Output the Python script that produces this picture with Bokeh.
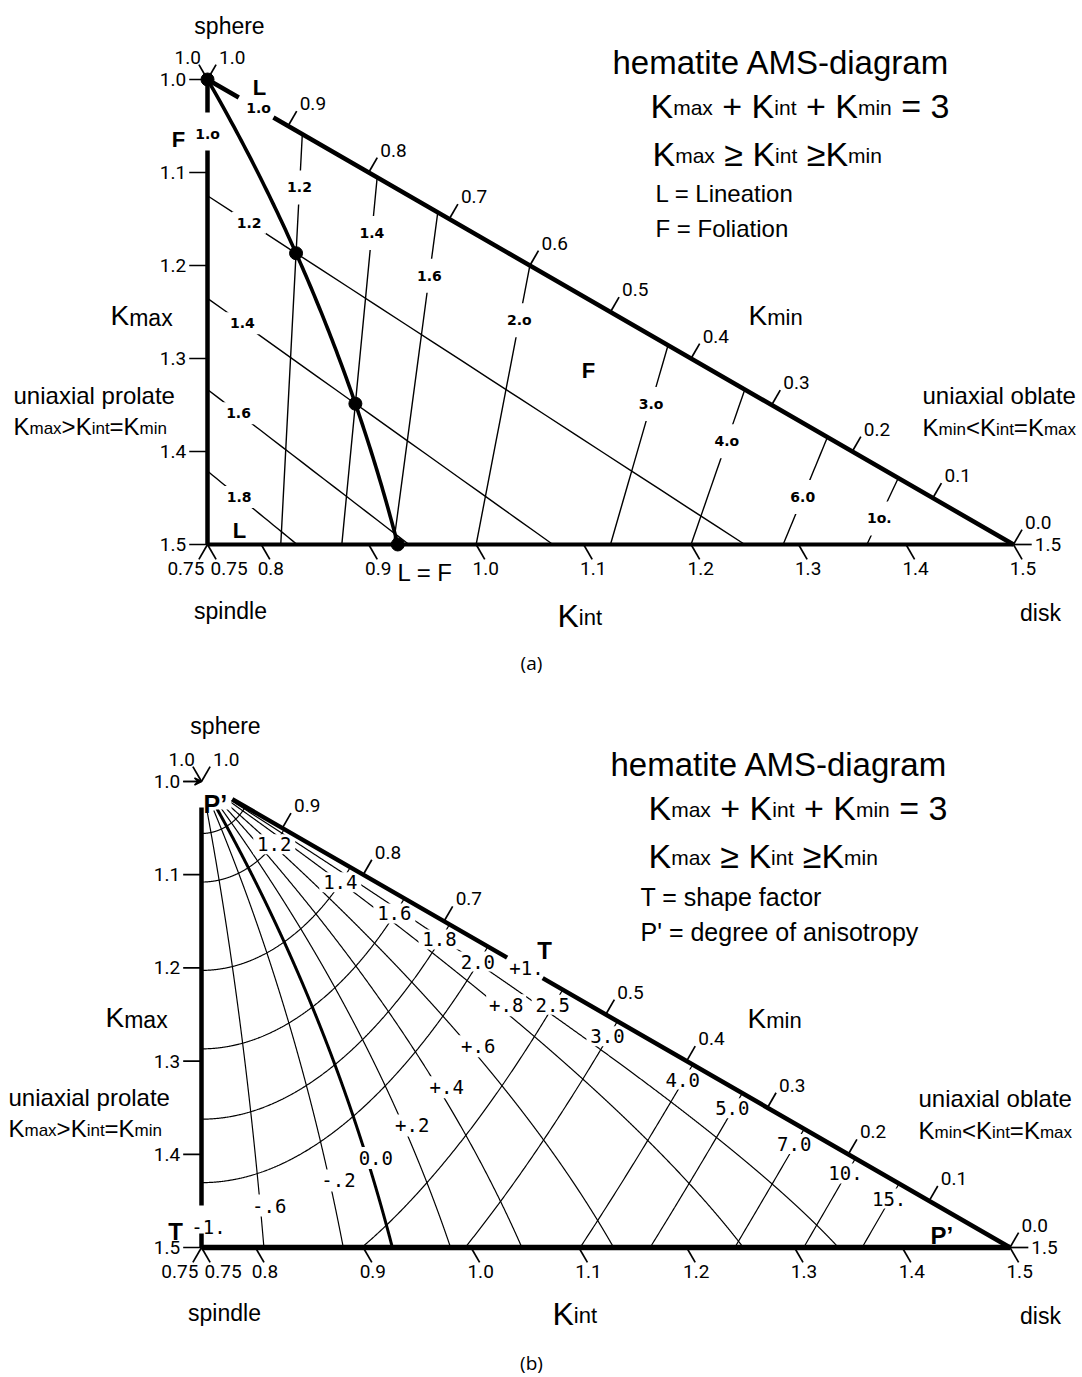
import numpy as np
from bokeh.plotting import figure
from bokeh.models import Range1d, Arrow, VeeHead
from bokeh.layouts import column
from bokeh.embed import file_html
from bokeh.resources import INLINE
from bokeh.core.properties import value

# ------------------------------------------------------------------ data
kmax_ticks = [1.0, 1.1, 1.2, 1.3, 1.4, 1.5]
kmax_labels = ["1.0", "1.1", "1.2", "1.3", "1.4", "1.5"]
kint_ticks = [0.75, 0.8, 0.9, 1.0, 1.1, 1.2, 1.3, 1.4, 1.5]
kint_labels = ["0.75", "0.8", "0.9", "1.0", "1.1", "1.2", "1.3", "1.4", "1.5"]
kmin_ticks = [1.0, 0.9, 0.8, 0.7, 0.6, 0.5, 0.4, 0.3, 0.2, 0.1, 0.0]
kmin_labels = ["1.0", "0.9", "0.8", "0.7", "0.6", "0.5", "0.4", "0.3", "0.2", "0.1", "0.0"]

# panel (a): lineation L = Kmax/Kint, foliation F = Kint/Kmin
L_values = [1.2, 1.4, 1.6, 1.8]
L_texts = ["1.2", "1.4", "1.6", "1.8"]
L_text_kmax = [1.154, 1.262, 1.359, 1.449]
F_values = [1.2, 1.4, 1.6, 2.0, 3.0, 4.0, 6.0, 10.0]
F_texts = ["1.2", "1.4", "1.6", "2.o", "3.o", "4.o", "6.0", "1o."]
F_text_kmax = [1.116, 1.165, 1.211, 1.259, 1.349, 1.389, 1.449, 1.472]
LF_dots = [1.0, 1.2, 1.4, 1.618]

# panel (b): shape factor T and degree of anisotropy P'
T_values = [-0.6, -0.2, 0.0, 0.2, 0.4, 0.6, 0.8, 0.9]
T_texts = ["-.6", "-.2", "0.0", "+.2", "+.4", "+.6", "+.8", ""]
T_text_kmax = [1.455, 1.428, 1.404, 1.369, 1.328, 1.284, 1.240, 0.0]
P_values = [1.1, 1.2, 1.4, 1.6, 1.8, 2.0, 2.5, 3.0, 4.0, 5.0, 7.0, 10.0, 15.0]
P_texts = ["", "1.2", "1.4", "1.6", "1.8", "2.0", "2.5", "3.0", "4.0", "5.0", "7.0", "10.", "15."]

# ------------------------------------------------------------------ helpers
W = 1082
SANS = "Liberation Sans"
NARROW = "Roboto"
MONO = "DejaVu Sans Mono"
STEN = "DejaVu Sans"
TFS = 19  # tick label font size

AW = {' ': 278, "'": 191, '(': 333, ')': 333, '+': 584, '-': 333, '.': 278, '<': 584, '=': 584,
      '>': 584, '\u2265': 549, 'A': 667, 'F': 611, 'K': 667, 'L': 556, 'M': 833, 'P': 667,
      'S': 667, 'T': 611, 'c': 500, 'f': 278, 'i': 222, 'j': 222, 'k': 500, 'l': 222, 'm': 833,
      'r': 333, 's': 500, 't': 278, 'v': 500, 'w': 722, 'x': 500, 'y': 500, 'z': 500}


def tw(s, size):
    return sum(AW.get(ch, 556) for ch in s) * size / 1000.0


class Panel:
    def __init__(self, X0, SX, Y0, SY, top, H):
        self.X0, self.SX, self.Y0, self.SY = X0, SX, Y0, SY
        x0 = -X0 / SX
        x1 = (W - X0) / SX
        ytop = 1 + (top - Y0) / SY
        ybot = 1 + (top + H - Y0) / SY
        p = figure(width=W, height=H, x_range=Range1d(x0, x1), y_range=Range1d(ybot, ytop),
                   output_backend="svg", toolbar_location=None, min_border=0,
                   x_axis_location=None, y_axis_location=None)
        p.grid.visible = False
        p.outline_line_color = None
        p.background_fill_color = "white"
        p.border_fill_color = "white"
        self.p = p

    def dx(self, px):
        return (px - self.X0) / self.SX

    def dy(self, py):
        return 1 + (py - self.Y0) / self.SY

    def td(self, x, y, s, size, font=SANS, style="normal", align="left", baseline="alphabetic",
           xo=0, yo=0):
        self.p.text(x=[x], y=[y], text=[s], text_font=value(font),
                    text_font_size=value("%dpx" % size), text_font_style=value(style),
                    text_align=align, text_baseline=baseline, x_offset=xo, y_offset=yo,
                    text_color="black")

    def t(self, px, py, s, size, **kw):
        self.td(self.dx(px), self.dy(py), s, size, **kw)

    def rich(self, px, py, parts):
        x = px
        for s, size, d in parts:
            lead = len(s) - len(s.lstrip(' '))
            self.t(x + tw(' ' * lead, size), py + d, s.strip(' '), size)
            x += tw(s, size)

    def box(self, x, y, w, h):
        self.p.rect(x=[x], y=[y], width=w, height=h, width_units="screen", height_units="screen",
                    fill_color="white", line_color=None)


def xy(kmax, kint, kmin):
    return np.asarray(kint) - np.asarray(kmin), np.asarray(kmax)


def K_TP(T, P):
    D = np.log(P) / np.sqrt(1.0 + T * T / 3.0)
    b = T * D / 3.0
    a = (D - b) / 2.0
    c = (-D - b) / 2.0
    e = np.exp(np.array([a, b, c]))
    return 3.0 * e / e.sum(axis=0)


def clip_bottom(x, y, ymax=1.5):
    ox, oy = [], []
    for i in range(len(x)):
        inside = y[i] <= ymax
        if i > 0:
            prev_in = y[i - 1] <= ymax
            if inside != prev_in:
                f = (ymax - y[i - 1]) / (y[i] - y[i - 1])
                ox.append(x[i - 1] + f * (x[i] - x[i - 1]))
                oy.append(ymax)
                if not inside:
                    ox.append(np.nan)
                    oy.append(np.nan)
        if inside:
            ox.append(x[i])
            oy.append(y[i])
    return ox, oy


TK = 0.016   # tick length (Kmax units) for Kint/Kmin ticks
TM = 0.034   # tick length (x units) for Kmax ticks


def frame_ticks(P, skip_kmin=(), tick_w=1.7):
    p = P.p
    x0s, y0s, x1s, y1s = [], [], [], []
    for v, lab in zip(kmax_ticks, kmax_labels):
        x0s += [0.0]; y0s += [v]; x1s += [-TM]; y1s += [v]
        P.td(-TM, v, lab, TFS, font=NARROW, align="right", baseline="middle", xo=-3)
    x0s += [1.5]; y0s += [1.5]; x1s += [1.5 + TM]; y1s += [1.5]
    P.td(1.5 + TM, 1.5, "1.5", TFS, font=NARROW, align="left", baseline="middle", xo=3)
    for k, lab in zip(kint_ticks, kint_labels):
        xb = 2 * k - 1.5
        x0s += [xb]; y0s += [1.5]; x1s += [xb + TK]; y1s += [1.5 + TK]
        xo = 13 if k == 0.75 else 1
        P.td(xb + TK, 1.5 + TK, lab, TFS, font=NARROW, align="center", baseline="top", xo=xo, yo=3)
    x0s += [0.0]; y0s += [1.0]; x1s += [-TK]; y1s += [1.0 - TK]
    P.td(-TK, 1.0 - TK, "1.0", TFS, font=NARROW, align="right", baseline="bottom", xo=2, yo=-1)
    for m, lab in zip(kmin_ticks, kmin_labels):
        if m in skip_kmin:
            continue
        kh = (3 - m) / 2.0
        xh = (3 - 3 * m) / 2.0
        x0s += [xh]; y0s += [kh]; x1s += [xh + TK]; y1s += [kh - TK]
        P.td(xh + TK, kh - TK, lab, TFS, font=NARROW, align="left", baseline="bottom", xo=3, yo=-1)
    x0s += [0.0]; y0s += [1.5]; x1s += [-TK]; y1s += [1.5 + TK]
    P.td(-TK, 1.5 + TK, "0.75", TFS, font=NARROW, align="center", baseline="top", xo=-13, yo=3)
    p.segment(x0=x0s, y0=y0s, x1=x1s, y1=y1s, line_width=tick_w, line_color="black")


def edges(P, left_from, left_gap, hyp_from, hyp_gap, w_side, w_bottom):
    p = P.p
    lx = [0, 0, np.nan, 0, 0]
    ly = [left_from, left_gap[0], np.nan, left_gap[1], 1.5]
    p.line(lx, ly, line_width=w_side, line_color="black", line_cap="butt")
    hk = [hyp_from, hyp_gap[0], np.nan, hyp_gap[1], 1.5]
    hx = [3 * (k - 1) if k == k else np.nan for k in hk]
    p.line(hx, hk, line_width=w_side, line_color="black", line_cap="butt")
    p.line([0, 1.5], [1.5, 1.5], line_width=w_bottom, line_color="black", line_cap="butt")


# ================================================================== panel (a)
A = Panel(207, 537.3, 79, 930, 0, 688)
pa = A.p

for L in L_values:
    kint = np.linspace(3 / (L + 2), 1.5 / L, 20)
    kmax = L * kint
    x, y = xy(kmax, kint, 3 - kmax - kint)
    pa.line(x, y, line_width=1.4, line_color="black")
for F in F_values:
    kint = np.linspace(3 * F / (2 * F + 1), 1.5 * F / (F + 1), 20)
    kmin = kint / F
    x, y = xy(3 - kint - kmin, kint, kmin)
    pa.line(x, y, line_width=1.4, line_color="black")

# L = F curve
Ls = np.linspace(1.0, LF_dots[-1], 120)
ki = 3 / (Ls + 1 + 1 / Ls)
x, y = xy(Ls * ki, ki, ki / Ls)
pa.line(x, y, line_width=3.6, line_color="black", line_join="round")
Ld = np.array(LF_dots)
kd = 3 / (Ld + 1 + 1 / Ld)
xd, yd = xy(Ld * kd, kd, kd / Ld)
pa.scatter(xd, yd, size=13, color="black")

for L, lab, km in zip(L_values, L_texts, L_text_kmax):
    kint = km / L
    xl = kint - (3 - km - kint)
    A.box(xl, km, 34, 22)
    A.td(xl, km, lab, 14, font=STEN, style="bold", align="center", baseline="middle")
for F, lab, km in zip(F_values, F_texts, F_text_kmax):
    kint = (3 - km) / (1 + 1 / F)
    xl = kint * (1 - 1 / F)
    A.box(xl, km, 34, 34)
    A.td(xl, km, lab, 14, font=STEN, style="bold", align="center", baseline="middle")

edges(A, 1.0, (1.0355, 1.0763), 1.0, (1.0194, 1.0409), 4.5, 4.0)
frame_ticks(A)

A.t(229, 25, "sphere", 23, align="center")
A.t(230, 610, "spindle", 23, align="center")
A.t(1040, 612, "disk", 23, align="center")
A.rich(612, 62, [("hematite AMS-diagram", 33, 0)])
A.rich(650, 105, [("K", 34, 0), ("max", 21, 2), (" + K", 34, 0), ("int", 21, 2), (" + K", 34, 0),
                  ("min", 21, 2), (" = 3", 34, 0)])
A.rich(652, 153, [("K", 34, 0), ("max", 21, 2), (" \u2265 K", 34, 0), ("int", 21, 2),
                  (" \u2265K", 34, 0), ("min", 21, 2)])
A.t(655, 193, "L = Lineation", 24)
A.t(655, 228, "F = Foliation", 24)
A.rich(110, 315, [("K", 28, 0), ("max", 23, 2)])
A.rich(557, 615, [("K", 32, 0), ("int", 22, 2)])
A.rich(748, 315, [("K", 28, 0), ("min", 22, 2)])
A.t(13, 395, "uniaxial prolate", 24)
A.rich(13, 426, [("K", 24, 0), ("max", 17, 2), (">K", 24, 0), ("int", 17, 2), ("=K", 24, 0), ("min", 17, 2)])
A.t(922, 395, "uniaxial oblate", 24)
A.rich(922, 427, [("K", 24, 0), ("min", 17, 2), ("<K", 24, 0), ("int", 17, 2), ("=K", 24, 0), ("max", 17, 2)])
A.t(259, 87, "L", 22, style="bold", align="center")
A.t(258, 107, "1.o", 14, font=STEN, style="bold", align="center", baseline="middle")
A.t(178, 139, "F", 22, style="bold", align="center")
A.t(207, 133, "1.o", 14, font=STEN, style="bold", align="center", baseline="middle")
A.t(239, 530, "L", 22, style="bold", align="center", baseline="middle")
A.t(588, 370, "F", 22, style="bold", align="center")
A.t(397, 572, "L = F", 24)
A.t(531, 662, "(a)", 19, font="Open Sans", align="center", baseline="middle")

# ================================================================== panel (b)
B = Panel(201, 539, 781, 932, 688, 689)
pb = B.p

Pgrid = np.geomspace(1.06, 60.0, 3000)
T_curves = {}
for T in T_values:
    K = K_TP(T, Pgrid)
    x, y = xy(K[0], K[1], K[2])
    cx, cy = clip_bottom(x, y)
    n = cy.index(1.5) + 1 if 1.5 in cy else len(cy)
    cx, cy = cx[:n], cy[:n]
    T_curves[T] = (np.array(cx), np.array(cy))
    pb.line(cx, cy, line_width=3.0 if T == 0.0 else 1.2, line_color="black")

Tgrid = np.linspace(-1.0, 1.0, 400)
for Pv in P_values:
    K = K_TP(Tgrid, Pv)
    x, y = xy(K[0], K[1], K[2])
    cx, cy = clip_bottom(x, y)
    pb.line(cx, cy, line_width=1.2, line_color="black")

for T, lab, km in zip(T_values, T_texts, T_text_kmax):
    if not lab:
        continue
    cx, cy = T_curves[T]
    xl = float(np.interp(km, cy, cx)) + 9 / B.SX
    B.box(xl, km, 40, 22)
    B.td(xl, km, lab, 19, font=MONO, align="center", baseline="middle")

for Pv, lab in zip(P_values, P_texts):
    if not lab:
        continue
    K = K_TP(1.0, Pv)
    xh, yh = xy(K[0], K[1], K[2])
    xl = float(xh) - 10 / B.SX
    yl = float(yh) + 15 / B.SY
    B.box(xl, yl, 42, 20)
    B.td(xl, yl, lab, 19, font=MONO, align="center", baseline="middle")

# clear the sphere corner for the P' label
B.box(B.dx(216), B.dy(795), 30, 28)

edges(B, 1.028, (1.455, 1.485), 1.019, (1.189, 1.211), 4.5, 5.5)
frame_ticks(B, skip_kmin=(0.6,))
pb.add_layout(Arrow(end=VeeHead(size=7, line_width=1.5), x_start=-TM, y_start=1.0, x_end=0.0, y_end=1.0,
                    line_width=1.5, line_color="black"))

B.t(225, 725, "sphere", 23, align="center")
B.t(224, 1312, "spindle", 23, align="center")
B.t(1040, 1315, "disk", 23, align="center")
B.rich(610, 764, [("hematite AMS-diagram", 33, 0)])
B.rich(648, 807, [("K", 34, 0), ("max", 21, 2), (" + K", 34, 0), ("int", 21, 2), (" + K", 34, 0),
                  ("min", 21, 2), (" = 3", 34, 0)])
B.rich(648, 855, [("K", 34, 0), ("max", 21, 2), (" \u2265 K", 34, 0), ("int", 21, 2),
                  (" \u2265K", 34, 0), ("min", 21, 2)])
B.t(640, 896, "T  = shape factor", 25)
B.t(640, 931, "P' = degree of anisotropy", 25)
B.rich(105, 1017, [("K", 28, 0), ("max", 23, 2)])
B.rich(552, 1313, [("K", 32, 0), ("int", 22, 2)])
B.rich(747, 1018, [("K", 28, 0), ("min", 22, 2)])
B.t(8, 1097, "uniaxial prolate", 24)
B.rich(8, 1128, [("K", 24, 0), ("max", 17, 2), (">K", 24, 0), ("int", 17, 2), ("=K", 24, 0), ("min", 17, 2)])
B.t(918, 1098, "uniaxial oblate", 24)
B.rich(918, 1130, [("K", 24, 0), ("min", 17, 2), ("<K", 24, 0), ("int", 17, 2), ("=K", 24, 0), ("max", 17, 2)])
B.t(203, 803, "P\u2019", 25, style="bold")
B.t(930, 1235, "P\u2019", 24, style="bold")
B.t(544, 950, "T", 24, style="bold", align="center")
B.t(526, 967, "+1.", 19, font=MONO, align="center", baseline="middle")
B.t(175, 1231, "T", 24, style="bold", align="center")
B.t(208, 1226, "-1.", 19, font=MONO, align="center", baseline="middle")
B.t(531, 1362, "(b)", 19, font="Open Sans", align="center", baseline="middle")

layout = column(pa, pb)
open("out.html", "w").write(file_html(layout, INLINE, title="hematite AMS-diagram"))
